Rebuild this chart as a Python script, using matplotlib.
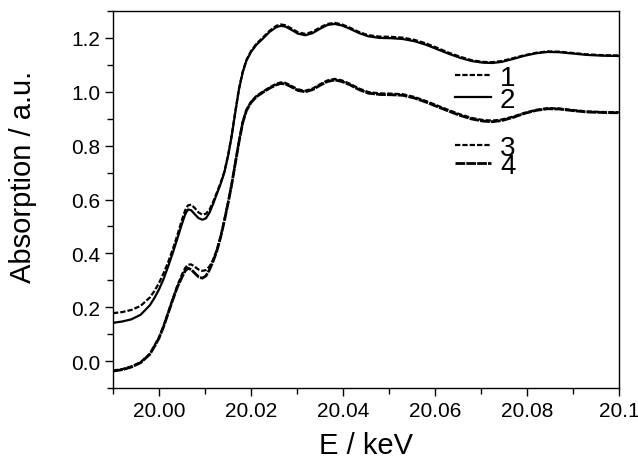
import matplotlib
matplotlib.use('Agg')
import matplotlib.pyplot as plt
from matplotlib.ticker import MultipleLocator

# energy grid (keV) shared by all four spectra
energy = [19.990, 19.992, 19.994, 19.996, 19.998, 19.999, 20.000, 20.001,
          20.002, 20.003, 20.004, 20.005, 20.0057, 20.0063, 20.0070, 20.0078,
          20.0086, 20.0094, 20.0102, 20.0110, 20.0118, 20.0126, 20.0134,
          20.0142, 20.0150, 20.0158, 20.0166, 20.0174, 20.0182, 20.0190,
          20.0200, 20.0212, 20.0225, 20.0240, 20.0255, 20.0265, 20.0275,
          20.0288, 20.0302, 20.0318, 20.0334, 20.0350, 20.0366, 20.0382,
          20.0398, 20.0415, 20.0435, 20.0455, 20.0480, 20.0505, 20.0530,
          20.0555, 20.0580, 20.0605, 20.0630, 20.0655, 20.0680, 20.0705,
          20.0725, 20.0745, 20.0770, 20.0795, 20.0820, 20.0845, 20.0870,
          20.0900, 20.0930, 20.0965, 20.1000]

curve_1 = [0.178, 0.182, 0.190, 0.205, 0.236, 0.260, 0.290, 0.326, 0.368,
           0.415, 0.468, 0.525, 0.560, 0.578, 0.581, 0.568, 0.552, 0.544,
           0.547, 0.563, 0.592, 0.627, 0.662, 0.703, 0.763,
           0.838, 0.928, 1.013, 1.075, 1.118, 1.151, 1.179, 1.200, 1.226,
           1.245, 1.250, 1.247, 1.235, 1.221, 1.215, 1.223, 1.239, 1.252,
           1.256, 1.250, 1.238, 1.222, 1.210, 1.205, 1.204, 1.201, 1.193,
           1.180, 1.163, 1.145, 1.130, 1.117, 1.111, 1.110, 1.114, 1.125,
           1.136, 1.145, 1.150, 1.149, 1.144, 1.139, 1.136, 1.135]

curve_2 = [0.142, 0.147, 0.155, 0.172, 0.207, 0.234, 0.266, 0.305, 0.352,
           0.402, 0.455, 0.510, 0.545, 0.563, 0.560, 0.545, 0.531, 0.525,
           0.530, 0.552, 0.585, 0.622, 0.658, 0.700, 0.760,
           0.835, 0.925, 1.010, 1.072, 1.115, 1.148, 1.175, 1.196, 1.222,
           1.240, 1.245, 1.242, 1.230, 1.216, 1.210, 1.218, 1.234, 1.248,
           1.252, 1.246, 1.234, 1.218, 1.206, 1.200, 1.199, 1.196, 1.188,
           1.175, 1.158, 1.141, 1.126, 1.114, 1.108, 1.107, 1.111, 1.122,
           1.134, 1.143, 1.148, 1.147, 1.142, 1.137, 1.134, 1.133]

curve_3 = [-0.035, -0.030, -0.020, -0.004, 0.027, 0.058, 0.088, 0.131,
           0.181, 0.232, 0.281, 0.322, 0.346, 0.358, 0.359, 0.350, 0.340,
           0.335, 0.338, 0.352, 0.378, 0.414, 0.463, 0.523, 0.588,
           0.658, 0.738, 0.818, 0.888, 0.933, 0.963, 0.985, 1.000, 1.016,
           1.030, 1.035, 1.033, 1.022, 1.009, 1.004, 1.012, 1.028, 1.042,
           1.048, 1.042, 1.030, 1.012, 0.999, 0.994, 0.993, 0.991, 0.981,
           0.966, 0.949, 0.932, 0.916, 0.903, 0.895, 0.893, 0.897, 0.908,
           0.922, 0.933, 0.939, 0.938, 0.932, 0.927, 0.925, 0.924]

curve_4 = [-0.037, -0.032, -0.022, -0.006, 0.025, 0.054, 0.085, 0.128,
           0.178, 0.228, 0.275, 0.312, 0.335, 0.345, 0.340, 0.326, 0.313,
           0.308, 0.316, 0.340, 0.372, 0.410, 0.460, 0.520, 0.585,
           0.655, 0.735, 0.815, 0.885, 0.930, 0.960, 0.982, 0.997, 1.013,
           1.026, 1.031, 1.029, 1.018, 1.005, 1.000, 1.008, 1.024, 1.038,
           1.044, 1.038, 1.026, 1.008, 0.995, 0.990, 0.989, 0.987, 0.977,
           0.962, 0.945, 0.928, 0.912, 0.899, 0.891, 0.889, 0.893, 0.905,
           0.920, 0.931, 0.937, 0.936, 0.930, 0.925, 0.923, 0.922]

x_ticks = [20.00, 20.02, 20.04, 20.06, 20.08, 20.10]
x_tick_labels = ['20.00', '20.02', '20.04', '20.06', '20.08', '20.1']
y_ticks = [0.0, 0.2, 0.4, 0.6, 0.8, 1.0, 1.2]
y_tick_labels = ['0.0', '0.2', '0.4', '0.6', '0.8', '1.0', '1.2']

plt.rcParams['font.family'] = ['Liberation Sans', 'DejaVu Sans']

fig = plt.figure(figsize=(6.38, 4.60), dpi=100)
ax = fig.add_axes([0.1771, 0.1543, 0.7931, 0.8196])

l4, = ax.plot(energy, curve_4, color='black', lw=2.0, dashes=(3.5, 0.4))
l3, = ax.plot(energy, curve_3, color='black', lw=1.6, dashes=(2.4, 0.9))
l2, = ax.plot(energy, curve_2, color='black', lw=1.6)
l1, = ax.plot(energy, curve_1, color='black', lw=1.6, dashes=(2.4, 0.9))

ax.set_xlim(19.99, 20.10)
ax.set_ylim(-0.1, 1.3)
ax.set_xticks(x_ticks)
ax.set_xticklabels(x_tick_labels)
ax.set_yticks(y_ticks)
ax.set_yticklabels(y_tick_labels)
ax.xaxis.set_minor_locator(MultipleLocator(0.01))
ax.yaxis.set_minor_locator(MultipleLocator(0.1))
ax.tick_params(which='both', direction='out', top=False, right=False,
               width=1.0, labelsize=15, pad=3)
ax.tick_params(which='major', length=6)
ax.tick_params(which='minor', length=4)
for s in ax.spines.values():
    s.set_linewidth(1.0)

ax.set_xlabel('E / keV', fontsize=21, labelpad=8)
ax.set_ylabel('Absorption / a.u.', fontsize=21)
ax.yaxis.set_label_coords(-0.151, 0.562)

# two small legends, one for each pair of spectra
leg_a = ax.legend([l1, l2], ['1', '2'], loc='upper left',
                  bbox_to_anchor=(0.676, 0.857), frameon=False, fontsize=20,
                  handlelength=1.3, handletextpad=0.32, labelspacing=-0.15,
                  borderpad=0, borderaxespad=0)
ax.add_artist(leg_a)
ax.legend([l3, l4], ['3', '4'], loc='upper left',
          bbox_to_anchor=(0.676, 0.672), frameon=False, fontsize=20,
          handlelength=1.3, handletextpad=0.32, labelspacing=-0.27,
          borderpad=0, borderaxespad=0)

fig.savefig('out.png', dpi=100)
